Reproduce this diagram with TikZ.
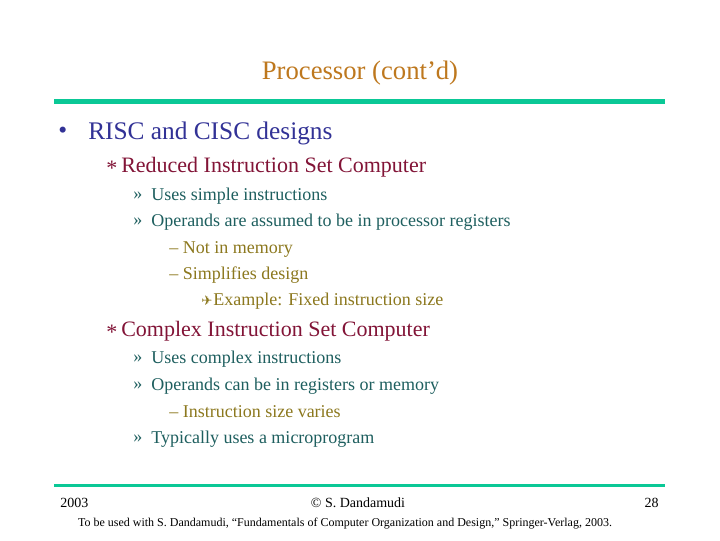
\documentclass[tikz,border=0pt]{standalone}
\usepackage{fontspec}
\setmainfont{Liberation Serif}
\newfontfamily\djv{DejaVu Sans}
\definecolor{ttl}{RGB}{190,120,30}
\definecolor{lvla}{RGB}{50,50,150}
\definecolor{lvlb}{RGB}{130,20,55}
\definecolor{lvlc}{RGB}{30,95,95}
\definecolor{lvld}{RGB}{140,120,30}
\definecolor{rule}{RGB}{10,200,150}
\begin{document}
\begin{tikzpicture}[x=0.75pt,y=-0.75pt,
  t/.style={anchor=west,inner sep=0pt},
  fa/.style={t,font=\fontsize{19}{22}\selectfont,text=lvla},
  fb/.style={t,font=\fontsize{16.5}{20}\selectfont,text=lvlb},
  fc/.style={t,font=\fontsize{13.5}{16}\selectfont,text=lvlc},
  fd/.style={t,font=\fontsize{13.5}{16}\selectfont,text=lvld}]
\fill[white] (0,0) rectangle (720,540);
\node[inner sep=0pt,font=\fontsize{20}{24}\selectfont,text=ttl] (title) at (360,73) {Processor (cont’d)};
\fill[rule] (54,99) rectangle (665,104);
\fill[rule] (54,484) rectangle (665,487);
\node[fa] (b1) at (58,133) {•};
\node[fa] (l1) at (88,133) {RISC and CISC designs};
\node[fb] (s1) at (106,168) {*};
\node[fb] (l2) at (121,167) {Reduced Instruction Set Computer};
\node[fc] (r1) at (133,196) {»};
\node[fc] (l3) at (151,196) {Uses simple instructions};
\node[fc] (r2) at (133,222) {»};
\node[fc] (l4) at (151,222) {Operands are assumed to be in processor registers};
\node[fd] (l5) at (169,249) {– Not in memory};
\node[fd] (l6) at (169,275) {– Simplifies design};
\node[t,font=\djv\fontsize{10}{12}\selectfont,text=lvld] (pl) at (201,301) {✈};
\node[fd] (l7) at (213,301) {Example: Fixed instruction size};
\node[fb] (s2) at (106,332) {*};
\node[fb] (l8) at (121,331) {Complex Instruction Set Computer};
\node[fc] (r3) at (133,359) {»};
\node[fc] (l9) at (151,359) {Uses complex instructions};
\node[fc] (r4) at (133,386) {»};
\node[fc] (l10) at (151,386) {Operands can be in registers or memory};
\node[fd] (l11) at (169,412) {– Instruction size varies};
\node[fc] (r5) at (133,439) {»};
\node[fc] (l12) at (151,439) {Typically uses a microprogram};
\node[t,font=\fontsize{10.5}{12}\selectfont] (f1) at (60,503) {2003};
\node[inner sep=0pt,font=\fontsize{10.5}{12}\selectfont] (f2) at (358,503) {© S. Dandamudi};
\node[anchor=east,inner sep=0pt,font=\fontsize{10.5}{12}\selectfont] (f3) at (659,503) {28};
\node[inner sep=0pt,font=\fontsize{9}{11}\selectfont] (f4) at (345,524) {To be used with S. Dandamudi, “Fundamentals of Computer Organization and Design,” Springer-Verlag, 2003.};
\end{tikzpicture}
\end{document}
